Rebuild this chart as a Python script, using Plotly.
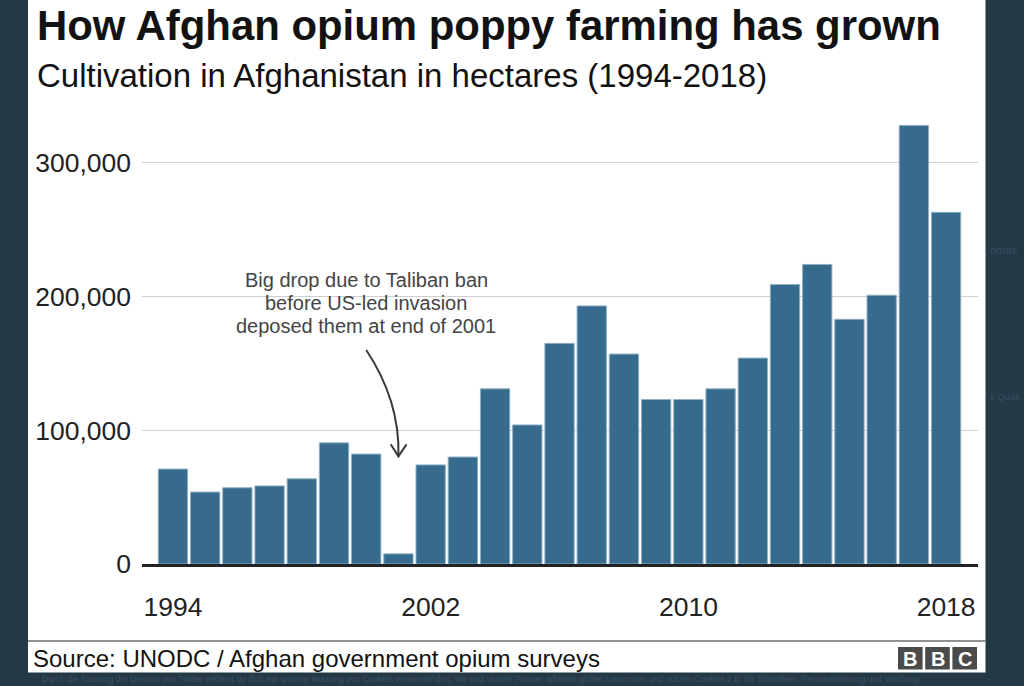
import plotly.graph_objects as go

# ---- data ----
years = list(range(1994, 2019))
hectares = [71000, 53800, 57000, 58400, 63700, 90600, 82200, 7600, 74100, 80000,
            131000, 104000, 165000, 193000, 157000, 123000, 123000, 131000, 154000,
            209000, 224000, 183000, 201000, 328000, 263000]
x_ticks = [1994, 2002, 2010, 2018]
y_ticks = [0, 100000, 200000, 300000]
y_tick_labels = ["0", "100,000", "200,000", "300,000"]

title = "How Afghan opium poppy farming has grown"
subtitle = "Cultivation in Afghanistan in hectares (1994-2018)"
source = "Source: UNODC / Afghan government opium surveys"
note_lines = ["Big drop due to Taliban ban", "before US-led invasion", "deposed them at end of 2001"]

W, H = 1024, 686
ML, MR, MT, MB = 142, 46, 96, 122
PW, PH = W - ML - MR, H - MT - MB


def px(x):
    return (x - ML) / PW


def py(y):
    return (H - MB - y) / PH


FONT = "Liberation Sans, Arial, Helvetica, sans-serif"
BAR = "#376b8d"

fig = go.Figure()
fig.add_trace(go.Bar(
    x=years, y=hectares,
    marker=dict(color=BAR, line=dict(color="#8fb0c6", width=1)),
    hoverinfo="skip",
))

shapes = []
# white card behind the chart
shapes.append(dict(type="rect", xref="paper", yref="paper",
                   x0=px(28), x1=px(985.5), y0=py(672.5), y1=py(-5),
                   fillcolor="white", line=dict(width=0), layer="below"))
# white box behind annotation text (masks gridline)
shapes.append(dict(type="rect", xref="paper", yref="paper",
                   x0=px(222), x1=px(511), y0=py(339), y1=py(264),
                   fillcolor="white", line=dict(width=0), layer="between"))
# curved arrow
shapes.append(dict(type="path", xref="x", yref="y",
                   path="M 2000,160000 Q 2001.05,122000 2001,80500",
                   line=dict(color="#3a3a3a", width=2)))
shapes.append(dict(type="path", xref="x", yref="y",
                   path="M 2000.76,89500 L 2001,80500 L 2001.25,89500",
                   line=dict(color="#3a3a3a", width=2)))
# source rule
shapes.append(dict(type="line", xref="paper", yref="paper",
                   x0=px(28), x1=px(985.5), y0=py(641), y1=py(641),
                   line=dict(color="#6e6e6e", width=1.5)))
# BBC logo boxes
for i in range(3):
    x0 = 898 + i * 27.2
    shapes.append(dict(type="rect", xref="paper", yref="paper",
                       x0=px(x0), x1=px(x0 + 24.6), y0=py(669.5), y1=py(647),
                       fillcolor="#4b4b4b", line=dict(width=0)))

annotations = []
annotations.append(dict(text=f"<b>{title}</b>", xref="paper", yref="paper",
                        x=px(35), y=py(25), xanchor="left", yanchor="middle",
                        showarrow=False, font=dict(family=FONT, size=41.9, color="#121212")))
annotations.append(dict(text=subtitle, xref="paper", yref="paper",
                        x=px(35), y=py(76), xanchor="left", yanchor="middle",
                        showarrow=False, font=dict(family=FONT, size=33, color="#121212")))
for i, line in enumerate(note_lines):
    annotations.append(dict(text=line, xref="paper", yref="paper",
                            x=px(366), y=py(280 + i * 23), xanchor="center", yanchor="middle",
                            showarrow=False, font=dict(family=FONT, size=20, color="#444444")))
annotations.append(dict(text=source, xref="paper", yref="paper",
                        x=px(31), y=py(658), xanchor="left", yanchor="middle",
                        showarrow=False, font=dict(family=FONT, size=24, color="#121212")))
for i, ch in enumerate("BBC"):
    x0 = 898 + i * 27.2
    annotations.append(dict(text=f"<b>{ch}</b>", xref="paper", yref="paper",
                            x=px(x0 + 12.3), y=py(658.5), xanchor="center", yanchor="middle",
                            showarrow=False, font=dict(family=FONT, size=20, color="white")))
# faint background page text
annotations.append(dict(
    text="Durch die Nutzung der Dienste von Twitter erklärst du dich mit unserer Nutzung von Cookies einverstanden. "
         "Wir und unsere Partner arbeiten global zusammen und nutzen Cookies z.B. für Statistiken, Personalisierung und Werbung",
    xref="paper", yref="paper", x=px(40), y=py(679), xanchor="left", yanchor="middle",
    showarrow=False, font=dict(family=FONT, size=8.6, color="#3b5263")))
annotations.append(dict(text="<b>önnte</b>", xref="paper", yref="paper", x=px(988), y=py(250),
                        xanchor="left", yanchor="middle", showarrow=False,
                        font=dict(family=FONT, size=10, color="#34495a")))
annotations.append(dict(text="<b>s Quak</b>", xref="paper", yref="paper", x=px(988), y=py(397),
                        xanchor="left", yanchor="middle", showarrow=False,
                        font=dict(family=FONT, size=9, color="#34495a")))

fig.update_layout(
    width=W, height=H,
    margin=dict(l=ML, r=MR, t=MT, b=MB, pad=0),
    paper_bgcolor="#243846",
    plot_bgcolor="white",
    showlegend=False,
    bargap=0.09,
    shapes=shapes,
    annotations=annotations,
    hovermode=False,
    xaxis=dict(
        range=[1993.04, 2018.99],
        tickvals=x_ticks,
        ticktext=[str(v) for v in x_ticks],
        showgrid=False, zeroline=False,
        showline=True, linecolor="#222222", linewidth=2.5,
        ticks="", ticklabelstandoff=17,
        tickfont=dict(family=FONT, size=26.5, color="#222222"),
        fixedrange=True,
    ),
    yaxis=dict(
        range=[0, 350000],
        tickvals=y_ticks,
        ticktext=y_tick_labels,
        showgrid=True, gridcolor="#cfcfcf", gridwidth=1,
        zeroline=False, showline=False,
        ticks="", ticklabelstandoff=10,
        tickfont=dict(family=FONT, size=26.5, color="#222222"),
        fixedrange=True,
    ),
)

fig.write_html(
    "out.html",
    config={"displayModeBar": False},
    post_script="document.body.style.margin='0';document.body.style.padding='0';"
                "document.documentElement.style.background='#243846';",
)
